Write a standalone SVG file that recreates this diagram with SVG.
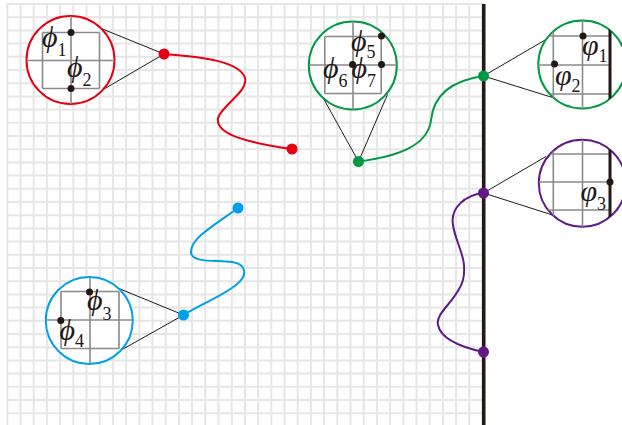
<svg xmlns="http://www.w3.org/2000/svg" width="622" height="425" viewBox="0 0 622 425">
<style>
.grid{stroke:#e6e6e6;stroke-width:2;fill:none}
.wall{stroke:#231815;stroke-width:3.6;fill:none}
.lens{fill:#fff;stroke-width:2}
.ig{stroke:#8a8a8a;stroke-width:1.6;fill:none}
.iw{stroke:#231815;stroke-width:3;fill:none}
.tan{stroke:#231815;stroke-width:1;fill:none}
.dot{fill:#231815}
.curve{fill:none;stroke-width:2}
.lbl{font-family:"Liberation Serif","Times New Roman",serif;font-style:italic;font-size:30px;fill:#231815}
.sub{font-style:normal;font-size:18px}
.red{stroke:#e60012}.redf{fill:#e60012}
.grn{stroke:#009944}.grnf{fill:#009944}
.blu{stroke:#00a0e9}.bluf{fill:#00a0e9}
.pur{stroke:#601986}.purf{fill:#601986}
</style>
<defs>
<clipPath id="cR"><circle cx="70.5" cy="60" r="44"/></clipPath>
<clipPath id="cG1"><circle cx="352.8" cy="65.5" r="44"/></clipPath>
<clipPath id="cG2"><circle cx="582.3" cy="64.5" r="44"/></clipPath>
<clipPath id="cP"><circle cx="582.3" cy="183.3" r="43.5"/></clipPath>
<clipPath id="cB"><circle cx="89.3" cy="320.5" r="43.5"/></clipPath>
</defs>

<g id="background-grid">
<path class="grid" d="M7.3 4V425M20.5 4V425M33.7 4V425M46.9 4V425M60.1 4V425M73.3 4V425M86.5 4V425M99.7 4V425M112.9 4V425M126.1 4V425M139.3 4V425M152.5 4V425M165.7 4V425M178.9 4V425M192.1 4V425M205.3 4V425M218.5 4V425M231.7 4V425M244.9 4V425M258.1 4V425M271.3 4V425M284.5 4V425M297.7 4V425M310.9 4V425M324.1 4V425M337.3 4V425M350.5 4V425M363.7 4V425M376.9 4V425M390.1 4V425M403.3 4V425M416.5 4V425M429.7 4V425M442.9 4V425M456.1 4V425M469.3 4V425
M6.3 4H484M6.3 17.2H484M6.3 30.4H484M6.3 43.6H484M6.3 56.8H484M6.3 70H484M6.3 83.2H484M6.3 96.4H484M6.3 109.6H484M6.3 122.8H484M6.3 136H484M6.3 149.2H484M6.3 162.4H484M6.3 175.6H484M6.3 188.8H484M6.3 202H484M6.3 215.2H484M6.3 228.4H484M6.3 241.6H484M6.3 254.8H484M6.3 268H484M6.3 281.2H484M6.3 294.4H484M6.3 307.6H484M6.3 320.8H484M6.3 334H484M6.3 347.2H484M6.3 360.4H484M6.3 373.6H484M6.3 386.8H484M6.3 400H484M6.3 413.2H484"/>
<path class="wall" d="M483.7 4V425"/>
</g>

<g id="connectors">
<path class="curve red" d="M164,54 C205,57 240,62 245,78 C248,92 222,105 218,118 C215,135 250,143 292,149"/>
<path class="curve grn" d="M358.5,161.5 C400,156 428,145 431,120 C434,92 455,80 483.5,76"/>
<path class="curve blu" d="M238,208 C215,225 190,238 191,253 C193,263 215,260 232,262 C247,264 248,276 236,285 C222,296 200,305 183.5,315"/>
<path class="curve pur" d="M483.5,193 C465,195 450,208 453,225 C456,245 468,258 463,280 C458,300 435,312 438,325 C441,340 465,348 483.5,352"/>
<path class="tan" d="M164,54L100,28M164,54L101.5,90.5"/>
<path class="tan" d="M358.5,161.5L321.5,95M358.5,161.5L387.5,94.5"/>
<path class="tan" d="M483.5,76L546,39.5M483.5,76L552.5,97.5"/>
<path class="tan" d="M483.5,193L546,156.5M483.5,193L552.5,215"/>
<path class="tan" d="M183.5,315L118.3,288.3M183.5,315L118.3,351.7"/>
</g>

<g id="lens-red">
<circle class="lens red" cx="70.5" cy="60" r="44"/>
<path class="ig" clip-path="url(#cR)" d="M42.5 32.5V88.5M99.5 32.5V88.5M71 10V110M42.5 32.5H99.5M42.5 88.5H99.5M20 60.5H121"/>
<circle class="dot" cx="71" cy="32.5" r="3.5"/>
<circle class="dot" cx="71" cy="88.5" r="3.5"/>
<text class="lbl" x="42" y="47">ϕ<tspan class="sub" dy="9">1</tspan></text>
<text class="lbl" x="67" y="77">ϕ<tspan class="sub" dy="9">2</tspan></text>
</g>

<g id="lens-green-left">
<circle class="lens grn" cx="352.8" cy="65.5" r="44"/>
<path class="ig" clip-path="url(#cG1)" d="M324.8 36.5V93.5M381.2 36.5V93.5M353 15V115M324.8 36.5H381.2M324.8 93.5H381.2M300 65H405"/>
<circle class="dot" cx="381.5" cy="36" r="3.5"/>
<circle class="dot" cx="352.5" cy="64.5" r="3.5"/>
<circle class="dot" cx="381.5" cy="64.5" r="3.5"/>
<text class="lbl" x="351" y="51">ϕ<tspan class="sub" dy="7">5</tspan></text>
<text class="lbl" x="323" y="78">ϕ<tspan class="sub" dy="9">6</tspan></text>
<text class="lbl" x="351.5" y="78">ϕ<tspan class="sub" dy="9">7</tspan></text>
</g>

<g id="lens-green-right">
<circle class="lens grn" cx="582.3" cy="64.5" r="44"/>
<path class="ig" clip-path="url(#cG2)" d="M553.3 15V115M582.5 15V115M530 36H610M530 65H610M530 94H610"/>
<path class="iw" clip-path="url(#cG2)" d="M610 15V115"/>
<circle class="dot" cx="583" cy="36" r="3.5"/>
<circle class="dot" cx="554.5" cy="64" r="3.5"/>
<text class="lbl" x="582" y="55">φ<tspan class="sub" dy="7">1</tspan></text>
<text class="lbl" x="555" y="85">φ<tspan class="sub" dy="7">2</tspan></text>
</g>

<g id="lens-purple">
<circle class="lens pur" cx="582.3" cy="183.3" r="43.5"/>
<path class="ig" clip-path="url(#cP)" d="M553.3 135V235M582.5 135V235M530 154H610M530 182H610M530 210H610"/>
<path class="iw" clip-path="url(#cP)" d="M610 135V235"/>
<circle class="dot" cx="610" cy="182" r="3.5"/>
<text class="lbl" x="580.5" y="201">φ<tspan class="sub" dy="9">3</tspan></text>
</g>

<g id="lens-blue">
<circle class="lens blu" cx="89.3" cy="320.5" r="43.5"/>
<path class="ig" clip-path="url(#cB)" d="M61 291.5V348.5M119 291.5V348.5M90 270V370M61 291.5H119M61 348.5H119M40 320H140"/>
<circle class="dot" cx="89.5" cy="292" r="3.5"/>
<circle class="dot" cx="60.8" cy="320.5" r="3.5"/>
<text class="lbl" x="87" y="310">ϕ<tspan class="sub" dy="10">3</tspan></text>
<text class="lbl" x="59.5" y="340">ϕ<tspan class="sub" dy="7">4</tspan></text>
</g>

<g id="nodes">
<circle id="node-red-a" class="redf" cx="164" cy="54" r="5.5"/>
<circle id="node-red-b" class="redf" cx="292" cy="149" r="5.5"/>
<circle id="node-green-a" class="grnf" cx="358.5" cy="161.5" r="5.5"/>
<circle id="node-green-b" class="grnf" cx="483.5" cy="76" r="5.5"/>
<circle id="node-blue-a" class="bluf" cx="238" cy="208" r="5.5"/>
<circle id="node-blue-b" class="bluf" cx="183.5" cy="315" r="5.5"/>
<circle id="node-purple-a" class="purf" cx="483.5" cy="193" r="5.5"/>
<circle id="node-purple-b" class="purf" cx="483.5" cy="352" r="5.5"/>
</g>
</svg>
